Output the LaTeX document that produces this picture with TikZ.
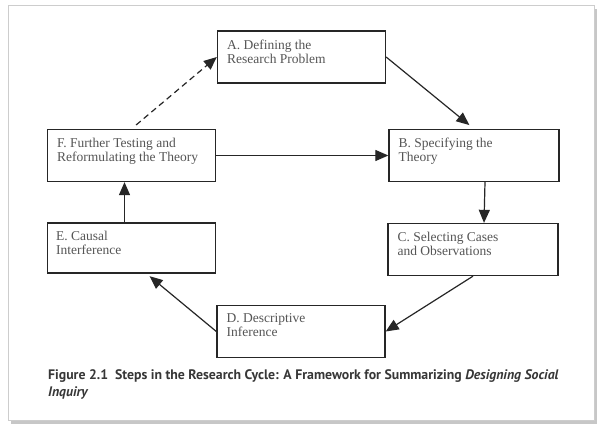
\documentclass[tikz,border=0pt]{standalone}
\usepackage{fontspec}
\setmainfont{Liberation Serif}
\newfontfamily\capfont{PT Sans}
\usetikzlibrary{arrows.meta}
\definecolor{boxgray}{RGB}{85,85,85}
\definecolor{capgray}{RGB}{55,55,55}
\definecolor{framegray}{RGB}{205,205,205}

\begin{document}
\begin{tikzpicture}[x=1pt, y=-1pt, >={Triangle[length=13pt,width=11pt]},
  stepbox/.style={draw=black!85, line width=1.3pt, minimum width=168pt, minimum height=52pt, inner sep=0pt},
  steptext/.style={anchor=north west, inner sep=0pt, align=left, text=boxgray, font=\fontsize{13.5}{14}\selectfont},
  flow/.style={->, line width=1.2pt, draw=black!85}]

% page frame
\useasboundingbox (0,0) rectangle (600,431);
\fill[black!22] (11,9) rectangle (597,424);
\draw[framegray, fill=white] (8,5) rectangle (594,420);

% the six steps
\node[stepbox] (A) at (301.5,57) {};
\node[steptext] (a) at ([shift={(10,9)}]A.north west) {A. Defining the\\Research Problem};

\node[stepbox] (F) at (131.5,155.5) {};
\node[steptext] (f) at ([shift={(10,9)}]F.north west) {F. Further Testing and\\Reformulating the Theory};

\node[stepbox, minimum width=170pt] (B) at (474,155.5) {};
\node[steptext] (b) at ([shift={(10,9)}]B.north west) {B. Specifying the\\Theory};

\node[stepbox, minimum height=50pt] (E) at (131.5,248) {};
\node[steptext] (e) at ([shift={(9,9)}]E.north west) {E. Causal\\Interference};

\node[stepbox, minimum width=170pt] (C) at (473,249.5) {};
\node[steptext] (c) at ([shift={(10,9)}]C.north west) {C. Selecting Cases\\and Observations};

\node[stepbox] (D) at (301,331.5) {};
\node[steptext] (d) at ([shift={(10,9)}]D.north west) {D. Descriptive\\Inference};

% arrows
\draw[flow, dashed, dash pattern=on 6pt off 4pt, shorten <=6pt] (F.north) -- (A.west);
\draw[flow, shorten >=6pt] (A.east) -- (B.north);
\draw[flow] (F.east) -- (B.west);
\draw[flow] ([xshift=11pt]B.south) -- ([xshift=11pt]C.north);
\draw[flow] (C.south) -- (D.east);
\draw[flow, shorten >=4pt] (D.west) -- ([xshift=15pt]E.south);
\draw[flow] ([xshift=-7pt]E.north) -- ([xshift=-7pt]F.south);

% caption
\node[anchor=north west, inner sep=0pt, align=left, text=capgray,
  font=\capfont\bfseries\fontsize{13.8}{17}\selectfont] (cap) at (48,369)
  {Figure 2.1\enspace Steps in the Research Cycle: A Framework for Summarizing \textit{Designing Social}\\\textit{Inquiry}};
\end{tikzpicture}
\end{document}
